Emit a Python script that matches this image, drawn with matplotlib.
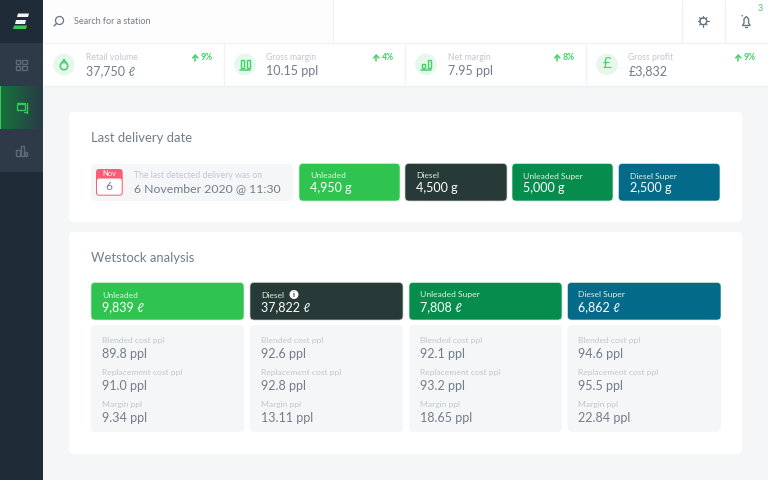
import numpy as np
import matplotlib.pyplot as plt
from matplotlib.patches import Rectangle, FancyBboxPatch, Circle, Polygon, Ellipse

plt.rcParams['font.family'] = ['Lato', 'DejaVu Sans']

# KPI row
kpi_labels = ['Retail volume', 'Gross margin', 'Net margin', 'Gross profit']
kpi_values = ['37,750 ℓ', '10.15 ppl', '7.95 ppl', '£3,832']
kpi_changes = ['9%', '4%', '8%', '9%']

# fuel tiles
fuels = ['Unleaded', 'Diesel', 'Unleaded Super', 'Diesel Super']
fuel_colors = ['#2fc44f', '#283a37', '#068d4e', '#046a8a']
delivery_values = ['4,950 g', '4,500 g', '5,000 g', '2,500 g']
wetstock_values = ['9,839 ℓ', '37,822 ℓ', '7,808 ℓ', '6,862 ℓ']

# wetstock details
detail_labels = ['Blended cost ppl', 'Replacement cost ppl', 'Margin ppl']
blended = ['89.8 ppl', '92.6 ppl', '92.1 ppl', '94.6 ppl']
replacement = ['91.0 ppl', '92.8 ppl', '93.2 ppl', '95.5 ppl']
margin = ['9.34 ppl', '13.11 ppl', '18.65 ppl', '22.84 ppl']

GREY_TEXT = '#727d8a'
PALE_TEXT = '#c0c7d0'
GREEN = '#45cf68'
PALE_GREEN = '#e6f7eb'
BG = '#f5f6f8'
LINE = '#f1f2f4'
NAV_ICON = '#5d6976'


def px(size):
    # font size given in image pixels
    return size * 0.72


def box(ax, x0, y0, x1, y1, color, r=4, edge='none', lw=0, z=2):
    ax.add_patch(FancyBboxPatch((x0 + r, y0 + r), x1 - x0 - 2 * r, y1 - y0 - 2 * r,
                                boxstyle=f'round,pad={r},rounding_size={r}',
                                fc=color, ec=edge, lw=lw, zorder=z))


def label(ax, x, y, s, size, color, **kw):
    ax.text(x, y, s, fontsize=px(size), color=color, va='center', ha=kw.pop('ha', 'left'), zorder=5, **kw)


def line(ax, xs, ys, color, lw=1.0, z=4):
    ax.plot(xs, ys, color=color, lw=lw, zorder=z, solid_capstyle='round')


def sidebar(ax):
    ax.add_patch(Rectangle((0, 0), 43, 480, fc='#1f2c38', zorder=1))
    ax.add_patch(Rectangle((0, 43), 43, 43, fc='#2e3a48', zorder=2))
    ax.add_patch(Rectangle((0, 129), 43, 43, fc='#2e3a48', zorder=2))
    grad = np.linspace(0, 1, 64).reshape(1, -1)
    left = np.array([0.09, 0.45, 0.24])
    right = np.array([0.16, 0.23, 0.27])
    img = (left[None, None, :] * (1 - grad[..., None]) + right[None, None, :] * grad[..., None])
    ax.imshow(img, extent=(0, 43, 129, 86), aspect='auto', zorder=2)
    ax.add_patch(Rectangle((0, 86), 1.2, 43, fc='#35c957', zorder=3))

    # logo
    ax.add_patch(Polygon([[18, 13.5], [29, 13.5], [28, 17], [17, 17]], fc='#f2f4f5', zorder=4))
    ax.add_patch(Polygon([[16, 20], [26, 20], [25, 24], [15, 24]], fc='#f2f4f5', zorder=4))
    ax.add_patch(Polygon([[14, 25.5], [27, 25.5], [26, 29], [13, 29]], fc='#35c957', zorder=4))

    # nav icons
    for ix, iy in [(16.2, 59.7), (22.3, 59.7), (16.2, 65.8), (22.3, 65.8)]:
        ax.add_patch(Rectangle((ix, iy), 4.2, 4.2, fc='none', ec=NAV_ICON, lw=1, zorder=4))
    ax.add_patch(Rectangle((16.5, 104), 8.5, 6, fc='none', ec='#35c957', lw=1, zorder=4))
    line(ax, [16.5, 25], [102.5, 102.5], '#35c957')
    line(ax, [26.5, 26.5], [103, 113], '#35c957')
    line(ax, [23.5, 26.5], [112, 112], '#35c957')
    for bx, by, bw in [(16, 150, 4), (20.5, 146, 3.5), (24.5, 152, 2.5)]:
        ax.add_patch(Rectangle((bx, by), bw, 156 - by, fc='none', ec=NAV_ICON, lw=1, zorder=4))


def topbar(ax):
    ax.add_patch(Rectangle((43, 0), 725, 43, fc='white', zorder=1))
    ax.add_patch(Rectangle((43, 0), 290, 43, fc='#fdfdfd', zorder=1))
    for x in [333, 682, 725]:
        line(ax, [x, x], [0, 43], LINE)
    line(ax, [43, 768], [43, 43], LINE)
    # search
    ax.add_patch(Circle((59.5, 20.5), 4, fc='none', ec='#6b7580', lw=0.9, zorder=4))
    line(ax, [54, 56.5], [26, 23.5], '#6b7580')
    label(ax, 74.5, 21, 'Search for a station', 9, GREY_TEXT)
    # settings
    ax.add_patch(Circle((703.3, 21.3), 3.4, fc='none', ec='#6b7580', lw=1.1, zorder=4))
    for a in np.radians(np.arange(0, 360, 45)):
        line(ax, [703.3 + 3.8 * np.cos(a), 703.3 + 5.2 * np.cos(a)],
             [21.3 + 3.8 * np.sin(a), 21.3 + 5.2 * np.sin(a)], '#6b7580', lw=0.9)
    # bell
    ax.add_patch(Polygon([[742.5, 25.5], [744, 23], [744, 19], [746.3, 16.5], [748.6, 19], [748.6, 23], [750.2, 25.5]],
                         closed=True, fc='none', ec='#6b7580', lw=1, zorder=4))
    line(ax, [745.3, 747.3], [27, 27], '#6b7580')
    ax.add_patch(Circle((742.3, 15.7), 0.9, fc='#ff5a76', zorder=5))
    label(ax, 760.5, 8.5, '3', 9, GREEN, ha='center')


def kpi_icon(ax, i, cx, cy):
    ax.add_patch(Circle((cx, cy), 10.8, fc=PALE_GREEN, zorder=3))
    if i == 0:
        ax.add_patch(Ellipse((cx, cy + 1.5), 7.5, 7.5, fc='none', ec=GREEN, lw=1.1, zorder=4))
        line(ax, [cx - 3, cx, cx + 3], [cy - 0.5, cy - 5, cy - 0.5], GREEN, lw=1.1)
    elif i == 1:
        ax.add_patch(Rectangle((cx - 4.5, cy - 5), 3, 8, fc='none', ec=GREEN, lw=1, zorder=4))
        ax.add_patch(Rectangle((cx + 1.5, cy - 5), 3, 8, fc='none', ec=GREEN, lw=1, zorder=4))
        line(ax, [cx - 5, cx + 5], [cy + 5, cy + 5], GREEN, lw=1.1)
    elif i == 2:
        ax.add_patch(Rectangle((cx - 4.5, cy - 1), 3, 4, fc='none', ec=GREEN, lw=1, zorder=4))
        ax.add_patch(Rectangle((cx + 1.5, cy - 5), 3, 8, fc='none', ec=GREEN, lw=1, zorder=4))
        line(ax, [cx - 5, cx + 5], [cy + 5, cy + 5], GREEN, lw=1.1)
    else:
        label(ax, cx, cy, '£', 15, GREEN, ha='center')


def kpi_row(ax):
    ax.add_patch(Rectangle((43, 43), 725, 43, fc='white', zorder=1))
    line(ax, [43, 768], [85.5, 85.5], '#eef0f2')
    starts = [43, 224, 405, 586]
    for i, x in enumerate(starts):
        if i:
            line(ax, [x, x], [43, 85], LINE)
        kpi_icon(ax, i, x + 21, 64.5)
        label(ax, x + 42.5, 58, kpi_labels[i], 8.7, PALE_TEXT)
        label(ax, x + 42.5, 71, kpi_values[i], 12.5, GREY_TEXT)
        label(ax, x + 170, 58, kpi_changes[i], 8.7, GREEN, ha='right', fontweight='bold')
        # up arrow
        ax_x = x + 152.3
        line(ax, [ax_x, ax_x], [55.2, 61], GREEN, lw=1.1)
        line(ax, [ax_x - 2.6, ax_x, ax_x + 2.6], [58, 55.2, 58], GREEN, lw=1.1)


def fuel_tile(ax, x0, x1, y0, y1, i, value):
    box(ax, x0, y0, x1, y1, fuel_colors[i], r=4, edge='#d5ece0' if i != 1 else '#c8cfcd', lw=0.5, z=3)
    label(ax, x0 + 11, y0 + 12.5, fuels[i], 8.5, '#dff3e6')
    label(ax, x0 + 11, y0 + 25, value, 12.5, 'white')


def delivery_card(ax):
    box(ax, 69, 112, 742, 222, 'white', r=4)
    label(ax, 91, 138.5, 'Last delivery date', 13, GREY_TEXT)
    box(ax, 91, 164, 293, 201, BG, r=5, z=3)
    # calendar
    box(ax, 96, 169, 122.7, 195.7, '#ff5a76', r=3, z=4)
    box(ax, 97, 178.5, 121.7, 194.7, 'white', r=2, z=4)
    label(ax, 109.3, 174, 'Nov', 7.5, 'white', ha='center')
    label(ax, 109.3, 186.5, '6', 12, GREY_TEXT, ha='center')
    label(ax, 133.5, 176, 'The last detected delivery was on', 8.7, PALE_TEXT)
    label(ax, 133.5, 188.5, '6 November 2020 @ 11:30', 12.2, GREY_TEXT)
    starts = [299, 405, 512, 618.5]
    ends = [400, 507, 613, 720]
    for i in range(4):
        fuel_tile(ax, starts[i], ends[i], 163.5, 201, i, delivery_values[i])


def wetstock_card(ax):
    box(ax, 69, 232, 742, 454, 'white', r=4)
    label(ax, 91, 257.5, 'Wetstock analysis', 13, GREY_TEXT)
    starts = [91, 250, 409, 567.5]
    ends = [244, 403, 562, 721]
    for i in range(4):
        fuel_tile(ax, starts[i], ends[i], 282.5, 320, i, wetstock_values[i])
        box(ax, starts[i], 325, ends[i], 432, BG, r=5, z=3)
        values = [blended[i], replacement[i], margin[i]]
        for j in range(3):
            label(ax, starts[i] + 11, 340.7 + j * 32, detail_labels[j], 8.5, PALE_TEXT)
            label(ax, starts[i] + 11, 353.5 + j * 32, values[j], 12.5, GREY_TEXT)
    # info mark next to Diesel
    ax.add_patch(Circle((294, 294.5), 4.5, fc='white', zorder=5))
    ax.text(294, 294.5, 'i', fontsize=px(7.5), color='#283a37', ha='center', va='center',
            fontweight='bold', zorder=6)


def draw_dashboard():
    fig = plt.figure(figsize=(7.68, 4.8), dpi=100, facecolor=BG)
    ax = fig.add_axes([0, 0, 1, 1])
    ax.set_facecolor(BG)
    sidebar(ax)
    topbar(ax)
    kpi_row(ax)
    delivery_card(ax)
    wetstock_card(ax)
    ax.set_xlim(0, 768)
    ax.set_ylim(480, 0)
    ax.axis('off')
    fig.savefig('out.png', dpi=100, facecolor=BG)


if __name__ == "__main__":
    draw_dashboard()
